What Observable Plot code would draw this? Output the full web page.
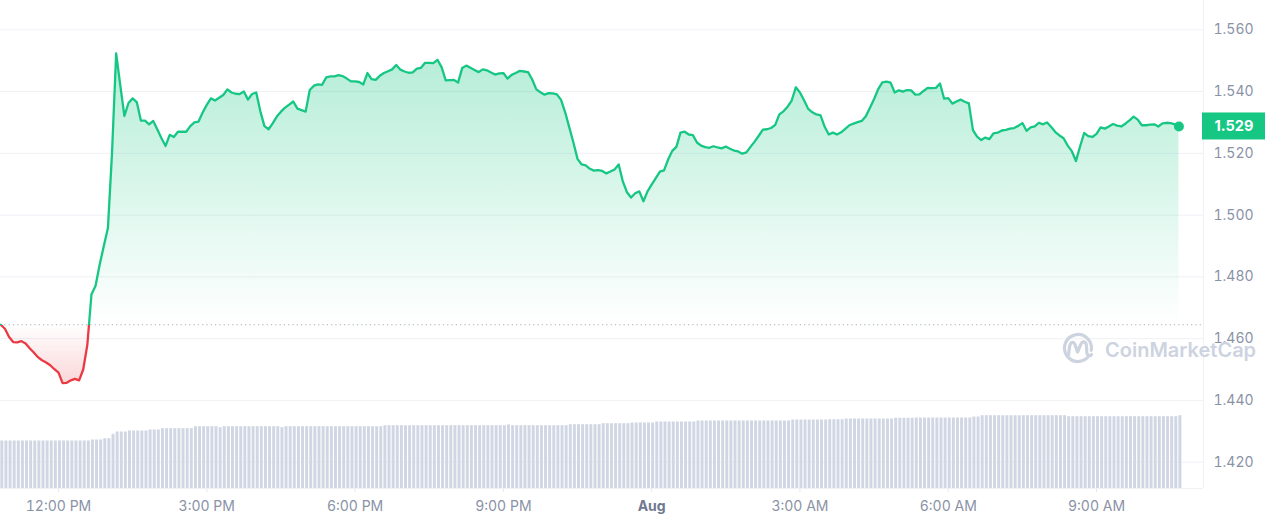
<!DOCTYPE html>
<html><head><meta charset="utf-8">
<script src="https://cdn.jsdelivr.net/npm/d3@7"></script>
<script src="https://cdn.jsdelivr.net/npm/@observablehq/plot@0.6"></script>
<style>
html,body{margin:0;padding:0;background:#fff;}
#wrap{position:relative;width:1265px;height:522px;overflow:hidden;font-family:Inter,sans-serif;}
#wrap > svg{position:absolute;left:0;top:0;}
#wrap g[aria-label="x-axis tick"]{stroke:#e4e7ed;}
</style></head><body><div id="wrap"></div>
<script>
// ---- data (5-minute samples, 31 Jul 10:50 -> 1 Aug 10:40) ----
const startTime = Date.UTC(2023, 6, 31, 10, 50);
const stepMinutes = 5;
const prices = [
1.4645,1.4632,1.4605,1.4589,1.4588,1.4592,1.4584,1.4569,1.4555,1.4540,
1.4530,1.4523,1.4514,1.4501,1.4490,1.4456,1.4457,1.4465,1.4470,1.4465,
1.4500,1.4580,1.4743,1.4771,1.4840,1.4900,1.4958,1.5203,1.5524,1.5420,
1.5321,1.5363,1.5378,1.5366,1.5306,1.5306,1.5294,1.5305,1.5277,1.5249,
1.5224,1.5260,1.5253,1.5270,1.5270,1.5270,1.5288,1.5300,1.5303,1.5332,
1.5357,1.5378,1.5371,1.5380,1.5389,1.5407,1.5397,1.5393,1.5392,1.5400,
1.5374,1.5392,1.5397,1.5336,1.5288,1.5278,1.5297,1.5319,1.5335,1.5348,
1.5358,1.5368,1.5345,1.5340,1.5335,1.5405,1.5419,1.5423,1.5422,1.5446,
1.5449,1.5449,1.5453,1.5450,1.5442,1.5433,1.5433,1.5431,1.5423,1.5460,
1.5440,1.5438,1.5451,1.5460,1.5466,1.5472,1.5486,1.5471,1.5465,1.5461,
1.5462,1.5474,1.5477,1.5493,1.5493,1.5492,1.5503,1.5479,1.5436,1.5437,
1.5438,1.5429,1.5476,1.5484,1.5477,1.5470,1.5463,1.5472,1.5469,1.5462,
1.5455,1.5459,1.5460,1.5442,1.5454,1.5460,1.5467,1.5465,1.5463,1.5439,
1.5407,1.5398,1.5390,1.5395,1.5394,1.5391,1.5373,1.5333,1.5284,1.5235,
1.5182,1.5164,1.5161,1.5150,1.5144,1.5146,1.5143,1.5135,1.5141,1.5148,
1.5164,1.5109,1.5074,1.5057,1.5071,1.5077,1.5045,1.5077,1.5099,1.5120,
1.5141,1.5145,1.5180,1.5208,1.5221,1.5267,1.5270,1.5261,1.5259,1.5235,
1.5225,1.5220,1.5218,1.5223,1.5219,1.5216,1.5222,1.5215,1.5209,1.5206,
1.5199,1.5203,1.5221,1.5238,1.5257,1.5277,1.5278,1.5282,1.5292,1.5326,
1.5336,1.5351,1.5371,1.5414,1.5397,1.5372,1.5344,1.5333,1.5326,1.5323,
1.5286,1.5261,1.5267,1.5261,1.5268,1.5279,1.5291,1.5296,1.5301,1.5305,
1.5320,1.5348,1.5376,1.5408,1.5430,1.5432,1.5429,1.5397,1.5404,1.5400,
1.5405,1.5404,1.5390,1.5391,1.5402,1.5412,1.5411,1.5412,1.5426,1.5377,
1.5379,1.5361,1.5368,1.5374,1.5367,1.5362,1.5275,1.5254,1.5243,1.5251,
1.5246,1.5265,1.5267,1.5274,1.5276,1.5280,1.5282,1.5289,1.5298,1.5273,
1.5284,1.5287,1.5299,1.5294,1.5300,1.5285,1.5269,1.5258,1.5249,1.5225,
1.5207,1.5175,1.5222,1.5266,1.5256,1.5253,1.5263,1.5284,1.5280,1.5287,
1.5295,1.5290,1.5287,1.5296,1.5307,1.5319,1.5309,1.5291,1.5291,1.5293,
1.5294,1.5287,1.5297,1.5299,1.5298,1.5294,1.5287
];
const volumes = [
47.5,47.5,47.5,47.5,47.5,47.5,47.5,47.5,47.5,47.5,
47.5,47.5,47.5,47.5,47.5,47.5,47.5,47.5,47.5,47.5,
47.5,47.5,48.5,48.5,48.5,49.8,49.8,54.2,56.5,56.5,
56.5,57.5,57.5,57.5,57.5,57.5,58.5,58.5,58.5,59.8,
59.8,59.8,59.8,59.8,59.8,59.8,59.8,61.8,61.8,61.8,
61.8,61.8,61.8,60.8,61.8,61.8,61.8,61.8,61.8,61.8,
61.8,61.8,61.8,61.8,61.8,61.8,61.8,61.8,60.8,61.8,
61.8,61.8,61.8,61.8,61.8,61.8,61.8,61.8,61.8,61.8,
61.8,61.8,61.8,61.8,61.8,61.8,61.8,61.8,61.8,61.8,
61.8,61.8,61.8,62.8,62.8,62.8,62.8,62.8,62.8,62.8,
62.8,62.8,62.8,62.8,62.8,62.8,62.8,62.8,62.8,62.8,
62.8,62.8,62.8,62.8,62.8,62.8,62.8,62.8,62.8,62.8,
62.8,62.8,62.8,63.5,62.8,62.8,62.8,62.8,62.8,62.8,
62.8,62.8,62.8,62.8,62.8,62.8,62.8,62.8,63.8,63.8,
63.8,63.8,63.8,63.8,63.8,63.8,64.8,64.8,64.8,64.8,
64.8,64.8,64.8,65.5,65.5,65.5,65.5,65.5,65.5,66.5,
66.5,66.5,66.5,66.5,66.5,66.5,66.5,66.5,66.5,67.5,
67.5,67.5,67.5,67.5,67.5,67.5,67.5,67.5,67.5,67.5,
67.5,67.5,67.5,67.5,67.5,67.5,67.5,67.5,67.5,67.5,
67.5,67.5,68.5,68.5,68.5,68.5,68.5,68.5,68.5,68.5,
68.5,68.8,68.8,68.8,68.8,69.5,69.5,69.5,69.5,69.5,
69.5,69.5,69.5,69.5,69.5,69.5,69.5,70.2,70.2,70.2,
70.2,70.2,70.5,70.5,70.5,70.5,70.5,70.5,70.5,70.5,
70.5,70.5,70.5,70.5,70.5,70.5,71.5,71.5,72.8,72.8,
72.8,72.8,72.8,72.8,72.8,72.8,72.8,72.8,72.8,72.8,
72.8,72.8,72.8,72.8,72.8,72.8,72.8,72.8,72.8,71.8,
71.8,71.8,71.8,71.8,71.8,71.8,71.8,71.8,71.8,71.8,
71.8,71.8,71.8,71.8,71.8,71.8,71.8,71.8,71.8,71.8,
71.8,71.8,71.8,71.8,71.8,71.8,72.8
];
const xTickTimes = [
  Date.UTC(2023,6,31,12), Date.UTC(2023,6,31,15), Date.UTC(2023,6,31,18), Date.UTC(2023,6,31,21),
  Date.UTC(2023,7,1,0), Date.UTC(2023,7,1,3), Date.UTC(2023,7,1,6), Date.UTC(2023,7,1,9)
].map(t => new Date(t));
const xTickLabels = ["12:00 PM","3:00 PM","6:00 PM","9:00 PM","Aug","3:00 AM","6:00 AM","9:00 AM"];
const yTicks = [1.42,1.44,1.46,1.48,1.50,1.52,1.54,1.56];
const xDomain = [new Date(Date.UTC(2023,6,31,10,49,36)), new Date(Date.UTC(2023,7,1,11,9,50))];
const yDomain = [1.41148, 1.56949];
const volumeDomain = [0, 100];

// ---- build ----
const data = prices.map((p, i) => ({t: new Date(startTime + i * stepMinutes * 60000), p, v: volumes[i]}));
const base = prices[0];
const last = data[data.length - 1];
const W = 1265, H = 522, mL = 0, mR = 62, mT = 0, mB = 34;
const green = "#16c784", red = "#ea3943";
const labelFor = new Map(xTickTimes.map((t, i) => [+t, xTickLabels[i]]));
const NS = "http://www.w3.org/2000/svg";

function gradients(index, scales, values, dim) {
  const defs = document.createElementNS(NS, "defs");
  const yb = scales.y(base), yTop = scales.y(d3.max(prices)), yBot = scales.y(d3.min(prices));
  const mk = (id, stops) => {
    const g = document.createElementNS(NS, "linearGradient");
    g.setAttribute("id", id);
    g.setAttribute("gradientUnits", "userSpaceOnUse");
    g.setAttribute("x1", 0); g.setAttribute("x2", 0);
    g.setAttribute("y1", 0); g.setAttribute("y2", dim.height);
    for (const [y, c, o] of stops) {
      const s = document.createElementNS(NS, "stop");
      s.setAttribute("offset", y / dim.height);
      s.setAttribute("stop-color", c);
      s.setAttribute("stop-opacity", o);
      g.appendChild(s);
    }
    defs.appendChild(g);
  };
  mk("cmcLineGrad", [[yb, green, 1], [yb, red, 1]]);
  mk("cmcAreaGrad", [[yTop, green, 0.32], [yb, green, 0], [yb, red, 0], [yBot, red, 0.2]]);
  return defs;
}
function badgeRect(index, scales, values, dim) {
  const y = scales.y(last.p);
  const r = document.createElementNS(NS, "rect");
  r.setAttribute("x", dim.width - dim.marginRight - 1);
  r.setAttribute("y", y - 13.5);
  r.setAttribute("width", dim.marginRight + 1);
  r.setAttribute("height", 27);
  r.setAttribute("fill", green);
  return r;
}

const pricePlot = Plot.plot({
  width: W, height: H, marginLeft: mL, marginRight: mR, marginTop: mT, marginBottom: mB,
  style: {background: "transparent", fontFamily: "Inter, sans-serif", fontSize: "14px", color: "#8a92a6", overflow: "visible"},
  x: {type: "utc", domain: xDomain, ticks: xTickTimes, tickFormat: d => labelFor.get(+d), tickSize: 4, tickPadding: 9, label: null},
  y: {domain: yDomain, axis: "right", ticks: yTicks, tickFormat: d3.format(".3f"), tickSize: 0, tickPadding: 10, label: null},
  marks: [
    gradients,
    Plot.ruleY(yTicks, {stroke: "#eff1f5", strokeWidth: 1}),
    Plot.ruleX([xDomain[1]], {stroke: "#eff1f5"}),
    Plot.ruleY([yDomain[0]], {stroke: "#eff1f5"}),
    Plot.areaY(data, {x: "t", y1: () => base, y2: "p", fill: "url(#cmcAreaGrad)"}),
    Plot.ruleY([base], {stroke: "#a6adbc", strokeWidth: 1.2, strokeDasharray: "1.2,3.1"}),
    Plot.lineY(data, {x: "t", y: "p", stroke: "url(#cmcLineGrad)", strokeWidth: 2.3, strokeLinejoin: "round"}),
    Plot.dot([last], {x: "t", y: "p", r: 5, fill: green, stroke: null}),
    badgeRect,
    Plot.text([last], {y: "p", frameAnchor: "right", dx: 11, textAnchor: "start", text: d => d.p.toFixed(3), fill: "white", fontWeight: 700, fontSize: 14.5})
  ]
});

const volumePlot = Plot.plot({
  width: W, height: H, marginLeft: mL, marginRight: mR, marginTop: mT, marginBottom: mB,
  style: {background: "transparent", overflow: "visible"},
  x: {type: "utc", domain: xDomain, axis: null},
  y: {domain: volumeDomain, range: [H - mB, H - mB - 100], axis: null},
  marks: [
    Plot.rect(data, {x1: "t", x2: d => new Date(+d.t + 216000), y1: () => 0, y2: "v", fill: "#d0d6e3"})
  ]
});

const wrap = document.getElementById("wrap");
wrap.appendChild(pricePlot);
wrap.appendChild(volumePlot);

// bold day label
for (const t of pricePlot.querySelectorAll("text")) {
  if (t.textContent === "Aug") { t.setAttribute("font-weight", "700"); t.style.fill = "#6f7a90"; }
}

// watermark
const wm = document.createElementNS(NS, "svg");
wm.setAttribute("width", W); wm.setAttribute("height", H);
wm.style.pointerEvents = "none";
wm.innerHTML = `
<g fill="none" stroke="#cdd3df" stroke-width="3.2" stroke-linecap="round" stroke-linejoin="round">
  <path d="M1089.1 355.7 A13.5 13.5 0 1 1 1091.3 350.3"/>
  <path d="M1068.5 355 L1069.5 347 C1070.5 341 1074 341 1075.5 346 L1077.5 352 L1080.5 345 C1082.5 340 1086.5 341 1086.5 347 L1086.8 352 C1087 356 1090 356.5 1091.5 354.5"/>
</g>
<text x="1105" y="357" font-family="Inter, sans-serif" font-size="20" font-weight="600" fill="#cdd3df">CoinMarketCap</text>`;
wrap.appendChild(wm);
</script></body></html>
